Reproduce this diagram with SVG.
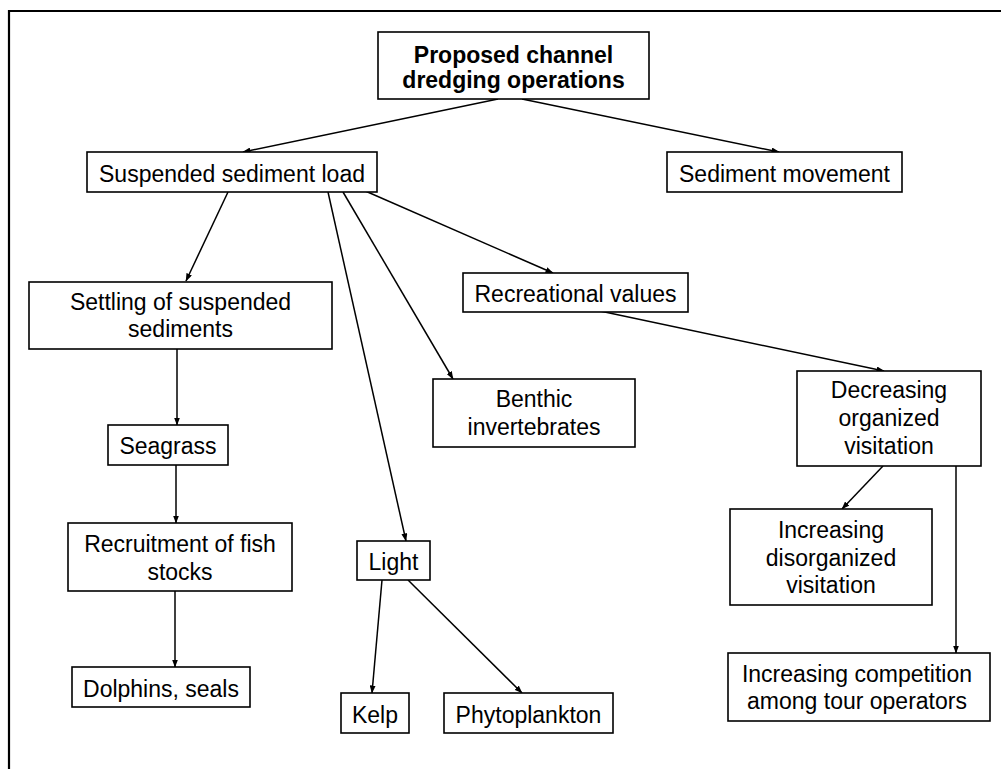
<svg xmlns="http://www.w3.org/2000/svg" width="1001" height="769" viewBox="0 0 1001 769">
<defs>
<marker id="ah" markerWidth="8" markerHeight="6" refX="7.5" refY="3" orient="auto" markerUnits="userSpaceOnUse">
<path d="M0,0 L8,3 L0,6 Z" fill="#000"/>
</marker>
<style>
.box{fill:#fff;stroke:#000;stroke-width:1.6}
.t{font-family:"Liberation Sans",Arial,sans-serif;font-size:23px;fill:#000;text-anchor:middle}
.b{font-weight:bold}
.c line{stroke:#000;stroke-width:1.5;marker-end:url(#ah)}
</style>
</defs>
<rect width="1001" height="769" fill="#fff"/>
<path d="M9,769 V11 H1001" fill="none" stroke="#000" stroke-width="2.2"/>
<g class="c" id="connectors">
<line x1="498" y1="99" x2="243" y2="152"/>
<line x1="522" y1="99" x2="779" y2="152"/>
<line x1="228" y1="192" x2="186" y2="281"/>
<line x1="328" y1="192" x2="406" y2="541"/>
<line x1="343" y1="192" x2="453" y2="379"/>
<line x1="363" y1="190" x2="553" y2="273"/>
<line x1="177" y1="349" x2="177" y2="425"/>
<line x1="176" y1="465" x2="176" y2="523"/>
<line x1="175" y1="591" x2="175" y2="667"/>
<line x1="382" y1="580" x2="372" y2="693"/>
<line x1="408" y1="580" x2="522" y2="693"/>
<line x1="600" y1="311" x2="884" y2="371"/>
<line x1="883" y1="466" x2="842" y2="509"/>
<line x1="956" y1="466" x2="956" y2="653"/>
</g>
<g id="n-top"><rect class="box" x="378" y="32" width="271" height="67"/><text class="t b" x="513.5" y="63">Proposed channel</text><text class="t b" x="513.5" y="88">dredging operations</text></g>
<g id="n-ssl"><rect class="box" x="87" y="152" width="290" height="40"/><text class="t" x="232" y="182">Suspended sediment load</text></g>
<g id="n-sm"><rect class="box" x="667" y="152" width="235" height="40"/><text class="t" x="784.5" y="182">Sediment movement</text></g>
<g id="n-settle"><rect class="box" x="29" y="282" width="303" height="67"/><text class="t" x="180.5" y="310">Settling of suspended</text><text class="t" x="180.5" y="337">sediments</text></g>
<g id="n-rec"><rect class="box" x="463" y="273" width="225" height="39"/><text class="t" x="575.5" y="302">Recreational values</text></g>
<g id="n-benthic"><rect class="box" x="433" y="379" width="202" height="68"/><text class="t" x="534" y="407">Benthic</text><text class="t" x="534" y="435">invertebrates</text></g>
<g id="n-seagrass"><rect class="box" x="108" y="425" width="120" height="40"/><text class="t" x="168" y="454">Seagrass</text></g>
<g id="n-dec"><rect class="box" x="797" y="371" width="184" height="95"/><text class="t" x="889" y="398">Decreasing</text><text class="t" x="889" y="426">organized</text><text class="t" x="889" y="454">visitation</text></g>
<g id="n-incdis"><rect class="box" x="730" y="509" width="202" height="96"/><text class="t" x="831" y="538">Increasing</text><text class="t" x="831" y="566">disorganized</text><text class="t" x="831" y="593">visitation</text></g>
<g id="n-recruit"><rect class="box" x="68" y="523" width="224" height="68"/><text class="t" x="180" y="552">Recruitment of fish</text><text class="t" x="180" y="580">stocks</text></g>
<g id="n-light"><rect class="box" x="357" y="541" width="73" height="39"/><text class="t" x="393.5" y="570">Light</text></g>
<g id="n-comp"><rect class="box" x="728" y="653" width="262" height="68"/><text class="t" x="857" y="682">Increasing competition</text><text class="t" x="857" y="709">among tour operators</text></g>
<g id="n-dolphins"><rect class="box" x="72" y="667" width="178" height="40"/><text class="t" x="161" y="697">Dolphins, seals</text></g>
<g id="n-kelp"><rect class="box" x="341" y="693" width="68" height="40"/><text class="t" x="375" y="723">Kelp</text></g>
<g id="n-phyto"><rect class="box" x="444" y="693" width="169" height="40"/><text class="t" x="528.5" y="723">Phytoplankton</text></g>
</svg>
